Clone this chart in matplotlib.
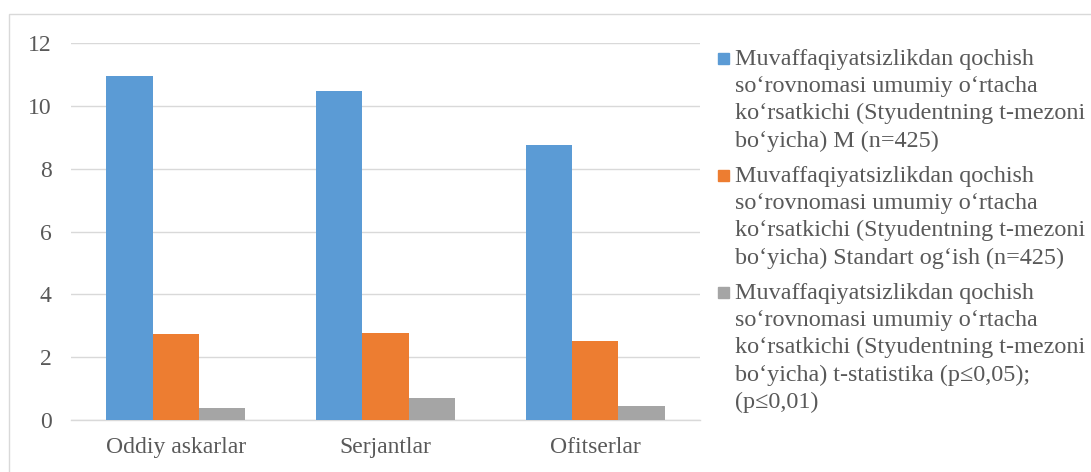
import matplotlib
matplotlib.use('Agg')
import matplotlib.pyplot as plt
import numpy as np
from matplotlib.patches import Rectangle

plt.rcParams['font.family'] = ['Liberation Serif', 'DejaVu Serif']

categories = ["Oddiy askarlar", "Serjantlar", "Ofitserlar"]
mean_vals = [10.95, 10.48, 8.76]
std_vals = [2.74, 2.77, 2.52]
t_vals = [0.38, 0.70, 0.45]
series_labels = [
    "Muvaffaqiyatsizlikdan qochish\nso\u2018rovnomasi umumiy o\u2018rtacha\nko\u2018rsatkichi (Styudentning t-mezoni\nbo\u2018yicha) M (n=425)",
    "Muvaffaqiyatsizlikdan qochish\nso\u2018rovnomasi umumiy o\u2018rtacha\nko\u2018rsatkichi (Styudentning t-mezoni\nbo\u2018yicha) Standart og\u2018ish (n=425)",
    "Muvaffaqiyatsizlikdan qochish\nso\u2018rovnomasi umumiy o\u2018rtacha\nko\u2018rsatkichi (Styudentning t-mezoni\nbo\u2018yicha) t-statistika (p\u22640,05);\n(p\u22640,01)",
]
colors = ["#5b9bd5", "#ed7d31", "#a5a5a5"]
text_col = "#595959"

W, H = 1091, 472
fig = plt.figure(figsize=(W / 100, H / 100), dpi=100)
ax = fig.add_axes([71 / W, 52 / H, 629 / W, 377 / H])

# light chart-area border
fig.patches.append(Rectangle((9 / W, -0.01), 1.1, (H - 14) / H + 0.01,
                             transform=fig.transFigure, fill=False,
                             edgecolor="#d9d9d9", linewidth=1))

x = np.arange(len(categories))
w = 0.221
for i, vals in enumerate([mean_vals, std_vals, t_vals]):
    ax.bar(x + (i - 1) * w, vals, w, color=colors[i], zorder=3)

ax.set_xlim(-0.5, 2.5)
ax.set_ylim(0, 12)
ax.set_yticks(range(0, 13, 2))
ax.yaxis.grid(True, color="#d9d9d9", linewidth=1, zorder=0)
ax.set_xticks(x)
ax.set_xticklabels(categories)
for s in ["top", "right", "left"]:
    ax.spines[s].set_visible(False)
ax.spines["bottom"].set_color("#d9d9d9")
ax.spines["bottom"].set_linewidth(1)
ax.tick_params(axis="both", length=0, colors=text_col, labelsize=17)
ax.tick_params(axis="x", pad=12)
ax.tick_params(axis="y", pad=14)

# legend: square + wrapped label, square level with first line
leg_baselines = [66, 183, 300]  # pixel rows of each label's first baseline
for i, lab in enumerate(series_labels):
    yb = leg_baselines[i]
    fig.patches.append(Rectangle((718 / W, 1 - (yb - 2) / H), 11 / W, 11 / H,
                                 transform=fig.transFigure, color=colors[i]))
    fig.text(735 / W, 1 - (yb - 17) / H, lab, ha="left", va="top",
             fontsize=17.4, color=text_col, linespacing=1.375)

fig.savefig("out.png", dpi=100)
